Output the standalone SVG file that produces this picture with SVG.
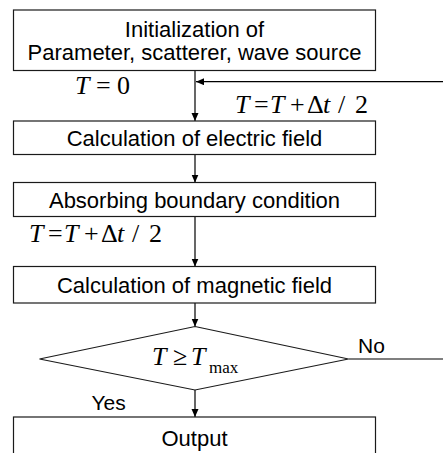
<svg xmlns="http://www.w3.org/2000/svg" width="443" height="453" viewBox="0 0 443 453">
<defs>
<marker id="arr" markerUnits="userSpaceOnUse" markerWidth="8" markerHeight="8" refX="8" refY="3.5" orient="auto">
<path d="M0,0 L8,3.5 L0,7 z" fill="#000"/>
</marker>
<style>
.box{fill:#fff;stroke:#1a1a1a;stroke-width:1.2}
.lbl{font-family:"Liberation Sans",Arial,sans-serif;font-size:22px;fill:#000;text-anchor:middle}
.side{font-family:"Liberation Sans",Arial,sans-serif;font-size:21px;fill:#000}
.math{font-family:"Liberation Serif","Times New Roman",serif;font-size:26px;fill:#000}
.it{font-style:italic}
.con{stroke:#000;stroke-width:1.2;fill:none}
.arrow{marker-end:url(#arr)}
</style>
</defs>
<rect width="443" height="453" fill="#fff"/>
<g id="connectors">
<line class="con arrow" x1="195" y1="70.5" x2="195" y2="121"/>
<line class="con arrow" x1="443" y1="81.7" x2="196" y2="81.7"/>
<line class="con arrow" x1="195" y1="154.5" x2="195" y2="182.5"/>
<line class="con arrow" x1="195" y1="216.5" x2="195" y2="266.5"/>
<line class="con arrow" x1="195" y1="303" x2="195" y2="326.5"/>
<line class="con arrow" x1="195" y1="390" x2="195" y2="417"/>
<line class="con" x1="348.5" y1="359" x2="443" y2="359"/>
<text class="math" y="94"><tspan class="it" x="75">T</tspan><tspan x="96">=</tspan><tspan x="117">0</tspan></text>
<text class="math" y="113"><tspan class="it" x="235">T</tspan><tspan x="254">=</tspan><tspan class="it" x="270">T</tspan><tspan x="290">+</tspan><tspan x="307">Δ</tspan><tspan class="it" x="323">t</tspan><tspan x="338">/</tspan><tspan x="355">2</tspan></text>
<text class="math" y="242"><tspan class="it" x="29">T</tspan><tspan x="48">=</tspan><tspan class="it" x="64">T</tspan><tspan x="84">+</tspan><tspan x="101">Δ</tspan><tspan class="it" x="117">t</tspan><tspan x="132">/</tspan><tspan x="149">2</tspan></text>
<text class="side" x="358" y="352.5">No</text>
<text class="side" x="91.5" y="409.5">Yes</text>
</g>
<g id="init">
<rect class="box" x="13.5" y="10" width="362" height="60.5"/>
<text class="lbl" x="194.5" y="37">Initialization of</text>
<text class="lbl" x="194.5" y="60">Parameter, scatterer, wave source</text>
</g>
<g id="electric">
<rect class="box" x="13.5" y="121" width="362" height="33.5"/>
<text class="lbl" x="194.5" y="146">Calculation of electric field</text>
</g>
<g id="absorbing">
<rect class="box" x="13.5" y="182.5" width="362" height="34"/>
<text class="lbl" x="194.5" y="207.5">Absorbing boundary condition</text>
</g>
<g id="magnetic">
<rect class="box" x="13.5" y="266.5" width="362" height="36.5"/>
<text class="lbl" x="194.5" y="292.5">Calculation of magnetic field</text>
</g>
<g id="decision">
<polygon class="box" points="195,326.5 348.5,359 195,390 39.5,359"/>
<text class="math" y="365"><tspan class="it" x="152">T</tspan><tspan x="173">≥</tspan><tspan class="it" x="191">T</tspan><tspan x="209" y="373" font-size="17">max</tspan></text>
</g>
<g id="output">
<rect class="box" x="13.5" y="417" width="362" height="50"/>
<text class="lbl" x="194.5" y="446">Output</text>
</g>
</svg>
